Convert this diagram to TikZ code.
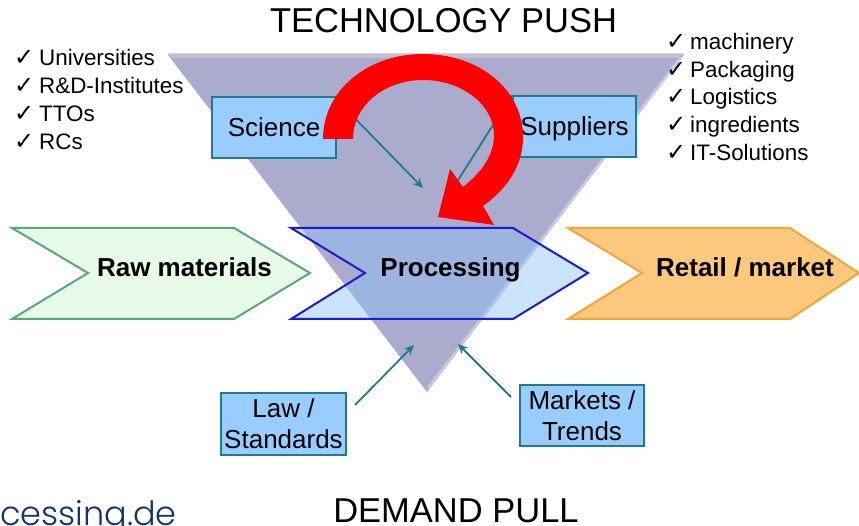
\documentclass[tikz,border=0pt]{standalone}
\usepackage{fontspec}
\setmainfont{Liberation Sans}
\newfontfamily\chk{DejaVu Sans}
\newfontfamily\geo{Poppins Light}
\definecolor{tri}{RGB}{171,171,205}
\definecolor{trihi}{RGB}{200,200,232}
\definecolor{tritop}{RGB}{192,192,210}
\definecolor{boxfill}{RGB}{153,204,255}
\definecolor{boxline}{RGB}{31,122,140}
\definecolor{greenfill}{RGB}{230,251,232}
\definecolor{greenline}{RGB}{90,166,127}
\definecolor{procfill}{RGB}{140,193,249}
\definecolor{procline}{RGB}{26,26,216}
\definecolor{orangefill}{RGB}{252,200,125}
\definecolor{orangeline}{RGB}{240,165,60}
\definecolor{urlblue}{RGB}{20,50,110}
\usetikzlibrary{arrows.meta}
\newcommand{\boxstrut}{\rule[-5.4pt]{0pt}{29.4pt}}
\tikzset{
  x=1pt,y=-1pt,
  infobox/.style={draw=boxline,line width=2pt,fill=boxfill,inner sep=0pt,align=center,font=\fontsize{26}{31}\selectfont,minimum width=#1},
  conn/.style={draw=boxline,line width=1.8pt,-{Stealth[length=10pt,width=9pt]}},
  head/.style={font=\fontsize{34.5}{40}\selectfont,inner sep=0pt,anchor=base},
  lab/.style={font=\bfseries\fontsize{26}{30}\selectfont,inner sep=0pt,anchor=base},
  item/.style={font=\fontsize{22.4}{27}\selectfont,inner sep=0pt,anchor=base west},
  tick/.style={font=\chk\fontsize{24}{28}\selectfont,inner sep=0pt,anchor=base west},
}
\begin{document}
\begin{tikzpicture}
\useasboundingbox (0,0) rectangle (859,526);
% triangle
\fill[tri] (168,55) -- (684,55) -- (427,392) -- cycle;
\fill[tritop] (168,53.5) -- (684,53.5) -- (681,58) -- (172,58) -- cycle;
\draw[trihi,line width=2.4pt] (680,58) -- (428,388);
% boxes
\node[infobox=124pt,minimum height=61pt] (science) at (274,127.5) {\boxstrut Science};
\node[infobox=123pt,minimum height=61pt] (suppliers) at (574.5,126.5) {\boxstrut Suppliers};
\node[infobox=125pt,minimum height=62pt] (law) at (283.5,424) {Law /\\Standards};
\node[infobox=124pt,minimum height=61pt] (markets) at (582,415.5) {Markets /\\Trends};
% connectors
\coordinate (sciT) at (423,188);
\coordinate (supT) at (448,196);
\coordinate (lawT) at (414,345);
\coordinate (marT) at (458,344);
\draw[conn] ([yshift=-4pt]science.north east) -- (sciT);
\draw[conn] (suppliers.north west) -- (supT);
\draw[conn] ([xshift=8pt,yshift=-13pt]law.north east) -- (lawT);
\draw[conn] ([xshift=-8pt,yshift=-13pt]markets.north west) -- (marT);
% chevrons
\draw[fill=greenfill,draw=greenline,line width=2pt] (12,228) -- (234,228) -- (310,273) -- (234,319) -- (12,319) -- (88,273) -- cycle;
\draw[fill=orangefill,draw=orangeline,line width=2pt] (568,228) -- (790,228) -- (859,273) -- (790,319) -- (568,319) -- (642,273) -- cycle;
\fill[procfill,opacity=.45] (291,228) -- (513,228) -- (588,273) -- (513,319) -- (291,319) -- (365,273) -- cycle;
\draw[procline,line width=2pt] (291,228) -- (513,228) -- (588,273) -- (513,319) -- (291,319) -- (365,273) -- cycle;
\node[lab] (raw) at (184.5,277) {Raw materials};
\node[lab] (proc) at (450.5,277) {Processing};
\node[lab] (retail) at (745,277) {Retail / market};
% red arrow
\fill[red] (323,139) .. controls (323,90) and (368,54) .. (423,54)
  .. controls (480,54) and (523,90) .. (523,137)
  .. controls (523,165) and (508,188) .. (483,206)
  -- (494,225) -- (438,217) -- (450,169) -- (463,187)
  .. controls (482,172) and (494,155) .. (494,135)
  .. controls (494,105) and (462,80) .. (423,80)
  .. controls (385,80) and (353,105) .. (353,139) -- cycle;
% headings
\node[head] (push) at (443.5,33) {TECHNOLOGY PUSH};
\node[head] (pull) at (456,522) {DEMAND PULL};
% lists
\foreach \t/\y in {Universities/66,R\&D-Institutes/94,TTOs/122,RCs/150}{
  \node[tick] at (14,\y) {✓};
  \node[item] at (39,\y) {\t};
}
\foreach \t/\y in {machinery/50,Packaging/78,Logistics/105,ingredients/133,IT-Solutions/161}{
  \node[tick] at (666,\y) {✓};
  \node[item] at (690,\y) {\t};
}
% url
\begin{scope}
\clip (0,490) rectangle (200,526);
\node[font=\geo\fontsize{33.5}{38}\selectfont,text=urlblue,inner sep=0pt,anchor=base west] (url) at (0,525) {cessing.de};
\end{scope}
\end{tikzpicture}
\end{document}
